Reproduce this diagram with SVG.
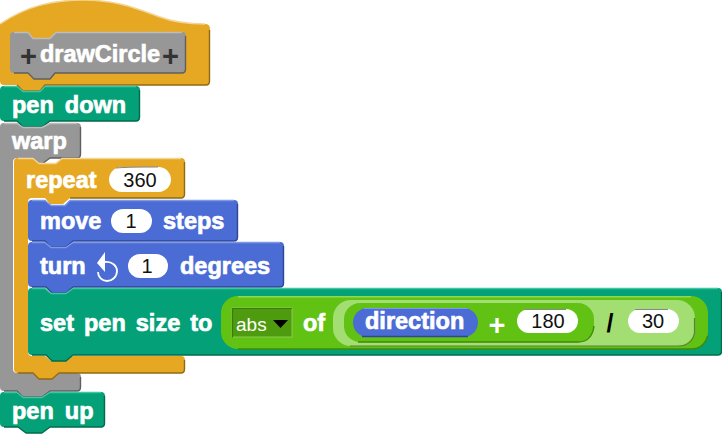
<svg xmlns="http://www.w3.org/2000/svg" width="722" height="434" viewBox="0 0 722 434">
<defs><style>
text{font-family:"Liberation Sans",Arial,sans-serif}
.l{font-weight:bold;font-size:23.500px;fill:#fff;word-spacing:4.500px;stroke:#fff;stroke-width:.7px;paint-order:stroke}
.n{font-size:20px;fill:#111;text-anchor:middle}
.o{fill:#e6a822}.p{fill:#04a077}.g{fill:#979797}.b{fill:#4a6cd4}
.hi,.lo{fill:none;stroke-width:1.4;stroke-linejoin:round}
.o+.hi{stroke:#f3d595}.o~.lo{stroke:#8f6a14}
.p+.hi{stroke:#3fc6a2}.p~.lo{stroke:#026b4f}
.g+.hi{stroke:#bdbdbd}.g~.lo{stroke:#5f5f5f}
.b+.hi{stroke:#7f98e6}.b~.lo{stroke:#2d4796}
.pill{fill:#fff}
.pe{fill:none;stroke:#888;stroke-width:1}
</style></defs>
<g id="connectors"></g>

<g id="hat">
<path class="o" d="M0 24C28 5 55 0 84 0C118 0 140 10 160 17C176 23 190 24 205 24Q210 24 210 29V81Q210 85 206 85H45L40 91H23L17 85H4Q0 85 0 81Z"/>
<path class="hi" d="M0 24C28 5 55 0 84 0C118 0 140 10 160 17C176 23 190 24 205 24"/>
<path class="lo" d="M209.500 30V81Q209.500 85 206 85H45L40 91H23L17 85"/>
</g>
<g id="pen-down">
<path class="p" d="M4 86H17L23 91H40L45 86H136Q140 86 140 90V117Q140 121 136 121H50L42 127H23L17 121H4Q0 121 0 117V90Q0 86 4 86Z"/>
<path class="hi" d="M4 86.500H17L23 91.500H40L45 86.500H136"/>
<path class="lo" d="M139.500 90V117Q139.500 121 136 121H50L42 127H23L17 121H4"/>
<text class="l" x="12" y="113">pen down</text>
</g>
<g id="warp">
<path class="g" d="M4 123H17L23 127H42L50 123H77Q81 123 81 127V154Q81 158 77 158H50L42 164H33L28 158H17Q13 158 13 162V369Q13 373 17 373H33L39 379H52L59 373H77Q81 373 81 377V387Q81 391 77 391H50L42 397H23L17 391H4Q0 391 0 387V127Q0 123 4 123Z"/>
<path class="hi" d="M4 123.500H17L23 127.500H42L50 123.500H77"/>
<path class="lo" d="M80.500 127V154Q80.500 158 77 158H50L42 164M80.500 377V387Q80.500 391 77 391H50L42 397H23L17 391H4"/>
<text class="l" x="12" y="149">warp</text>
</g>
<g id="repeat">
<path class="o" d="M18 158H33L39 163H56L62 158H181Q185 158 185 162V194Q185 198 181 198H70L63 204H50L45 198H32Q28 198 28 202V352Q28 356 32 356H45L51 361H65L73 356H181Q185 356 185 360V369Q185 373 181 373H59L52 379H39L33 373H18Q14 373 14 369V162Q14 158 18 158Z"/>
<path class="hi" d="M18 158.500H33L39 163.500H56L62 158.500H181"/>
<path class="lo" d="M184.500 162V194Q184.500 198 181 198H70M184.500 360V369Q184.500 373 181 373H59L52 379H39L33 373H18"/>
<text class="l" x="26" y="188">repeat</text>
<rect class="pill" x="109" y="167" width="62" height="25" rx="12.500"/>
<path class="pe" d="M116 168Q125 167 158 167"/>
<text class="n" x="140" y="187">360</text>
</g>
<g id="move">
<path class="b" d="M32 200H45L51 205H65L70 200H234Q238 200 238 204V237Q238 241 234 241H73L66 247H50L45 241H32Q28 241 28 237V204Q28 200 32 200Z"/>
<path class="hi" d="M32 200.500H45L51 205.500H65L70 200.500H234"/>
<path class="lo" d="M237.500 204V237Q237.500 241 234 241H73L66 247H50L45 241H32"/>
<text class="l" x="40" y="229">move</text>
<rect class="pill" x="111" y="209" width="41" height="24" rx="12"/>
<text class="n" x="131" y="228">1</text>
<text class="l" x="163" y="229">steps</text>
</g>
<g id="turn">
<path class="b" d="M32 242H45L51 247H66L73 242H280Q284 242 284 246V283Q284 287 280 287H73L66 293H52L46 287H32Q28 287 28 283V246Q28 242 32 242Z"/>
<path class="hi" d="M32 242.500H45L51 247.500H66L73 242.500H280"/>
<path class="lo" d="M283.500 246V283Q283.500 287 280 287H73L66 293H52L46 287H32"/>
<text class="l" x="40" y="274">turn</text>
<path d="M105 262C112 261 117 266 117 271C117 277 112 281 107 281C102 281 98 277 98 272" fill="none" stroke="#fff" stroke-width="1.800"/>
<path d="M105 252L97 263L105 272Z" fill="#fff"/>
<rect class="pill" x="128" y="254" width="40" height="24" rx="12"/>
<text class="n" x="147" y="273">1</text>
<text class="l" x="180" y="274">degrees</text>
</g>
<g id="set-pen-size">
<path class="p" d="M32 288H45L51 293H66L73 288H718Q722 288 722 292V351Q722 355 718 355H73L66 361H52L46 355H32Q28 355 28 351V292Q28 288 32 288Z"/>
<path class="hi" d="M32 288.500H45L51 293.500H66L73 288.500H718"/>
<path class="lo" d="M721.500 292V351Q721.500 355 718 355H73L66 361H52L46 355H32"/>
<text class="l" x="40" y="331" style="word-spacing:3.500px">set pen size to</text>
<rect x="221" y="296" width="487" height="53" rx="17" fill="#62c213"/>
<path d="M238 296.800H691" fill="none" stroke="#8ed855" stroke-width="1.500"/>
<path d="M238 349H691Q704 349 707.500 336" fill="none" stroke="#3f8a07" stroke-width="1.400"/>
<rect x="232" y="308" width="60" height="29" fill="#4f9b0f" stroke="#8bcb55" stroke-width="1"/>
<path d="M232.500 337.500V308.500H292" fill="none" stroke="#3d7a0a" stroke-width="1.200"/>
<text x="236" y="331" font-size="19" fill="#fff">abs</text>
<path d="M273 320H288L280.500 328Z" fill="#000"/>
<text class="l" x="303" y="331">of</text>
<rect x="333" y="300" width="362" height="46" rx="18" fill="#a3de72"/>
<path d="M350 346H678Q692 346 694.500 333V318" fill="none" stroke="#5e7f43" stroke-width="1.200"/>
<rect x="344" y="303" width="250" height="39" rx="16" fill="#62c213"/>
<path d="M358 342H578Q592 342 594 326" fill="none" stroke="#3f8a07" stroke-width="1.400"/>
<rect x="353" y="308" width="125" height="29" rx="14.500" fill="#4a6cd4"/>
<path d="M362 336.500H468" fill="none" stroke="#2d4796" stroke-width="1.400"/>
<path d="M364 308.500H468" fill="none" stroke="#7f98e6" stroke-width="1"/>
<text class="l" x="365" y="329">direction</text>
<text x="497" y="335" font-size="29" font-weight="bold" fill="#fff" text-anchor="middle">+</text>
<rect class="pill" x="517" y="309" width="61" height="24" rx="12"/>
<path class="pe" d="M524 309.500H566"/>
<text class="n" x="548" y="328">180</text>
<text x="610" y="332" font-size="25" font-weight="bold" fill="#000" text-anchor="middle">/</text>
<rect class="pill" x="628" y="309" width="51" height="24" rx="12"/>
<path class="pe" d="M635 309.500H668"/>
<text class="n" x="653" y="328">30</text>
</g>
<g id="pen-up">
<path class="p" d="M4 392H17L23 397H42L50 392H101Q105 392 105 396V423Q105 427 101 427H50L42 433H26L18 427H4Q0 427 0 423V396Q0 392 4 392Z"/>
<path class="hi" d="M4 392.500H17L23 397.500H42L50 392.500H101"/>
<path class="lo" d="M104.500 396V423Q104.500 427 101 427H50L42 433H26L18 427H4"/>
<text class="l" x="12" y="419">pen up</text>
</g>
<g id="prototype">
<path class="g" d="M14 32H28L33 38H50L56 32H182Q186 32 186 36V69Q186 73 182 73H55L50 79H34L28 73H14Q10 73 10 69V36Q10 32 14 32Z"/>
<path class="hi" d="M14 32.500H28L33 38.500H50L56 32.500H182"/>
<path class="lo" d="M185.500 36V69Q185.500 73 182 73H55L50 79H34L28 73H14"/>
<text x="28.500" y="66" font-size="29" font-weight="bold" fill="#333" text-anchor="middle">+</text>
<text class="l" x="40" y="62">drawCircle</text>
<text x="170.500" y="66" font-size="29" font-weight="bold" fill="#333" text-anchor="middle">+</text>
</g>
</svg>
